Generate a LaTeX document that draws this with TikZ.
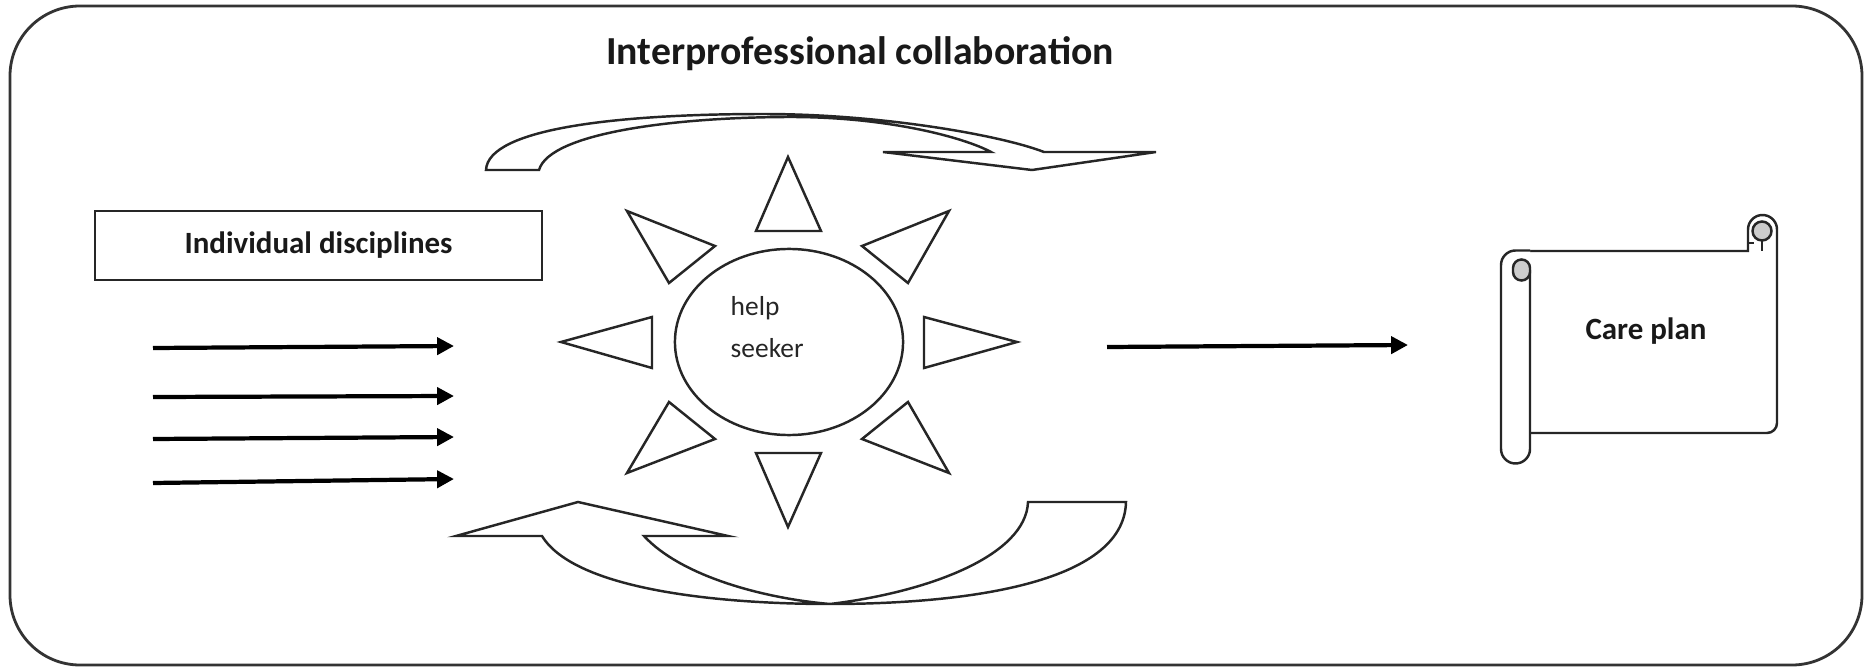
\documentclass[tikz,border=0pt]{standalone}
\usepackage{fontspec}
\setmainfont{Carlito}
\usetikzlibrary{shapes.geometric,arrows.meta}
\begin{document}
\begin{tikzpicture}[x=0.01cm,y=-0.01cm,
  outline/.style={draw=black!85, line width=0.7pt, line join=miter, fill=white},
  frameline/.style={draw=black!80, line width=0.8pt, rounded corners=0.7cm},
  flowarrow/.style={draw=black, line width=1.2pt, -{Triangle[length=4.8pt,width=4.8pt]}},
  boldlbl/.style={font=\bfseries\fontsize{8.8}{10.5}\selectfont, inner sep=0pt, text=black!90},
  curlfill/.style={draw=black!85, line width=0.7pt, fill=gray!40},
]
\useasboundingbox (0,0) rectangle (1869,670);
% outer frame
\draw[frameline] (10,6) rectangle (1862,665);
% title
\node[font=\bfseries\fontsize{11.3}{13}\selectfont, inner sep=0pt, text=black!90] (title) at (860,54) {Interprofessional collaboration};
% individual disciplines box
\node[draw=black!85, line width=0.6pt, minimum width=4.47cm, minimum height=0.69cm, inner sep=0pt, boldlbl] (disc) at (318.5,245.5) {Individual disciplines};
% left arrows
\coordinate (a1s) at (153,348); \coordinate (a1e) at (454,346);
\coordinate (a2s) at (153,397); \coordinate (a2e) at (454,396);
\coordinate (a3s) at (153,439); \coordinate (a3e) at (454,437);
\coordinate (a4s) at (153,483); \coordinate (a4e) at (454,479);
\draw[flowarrow] (a1s) -- (a1e);
\draw[flowarrow] (a2s) -- (a2e);
\draw[flowarrow] (a3s) -- (a3e);
\draw[flowarrow] (a4s) -- (a4e);
% right arrow
\coordinate (b1s) at (1107,347); \coordinate (b1e) at (1408,345);
\draw[flowarrow] (b1s) -- (b1e);
% top curved arrow
\draw[outline] (486,170) .. controls (488,128) and (620,114) .. (764,114)
  .. controls (880,114) and (1000,135) .. (1044,152)
  -- (1156,152) -- (1032,170) -- (883,152) -- (991,152)
  .. controls (965,138) and (890,117) .. (791,117)
  .. controls (680,117) and (550,132) .. (539,170) -- cycle;
% bottom curved arrow
\draw[outline] (456,536) -- (578,502) -- (728,536) -- (644,536)
  .. controls (680,575) and (760,598) .. (830,604)
  .. controls (930,592) and (1026,555) .. (1028,502)
  -- (1126,502)
  .. controls (1124,585) and (960,604) .. (830,604)
  .. controls (720,604) and (575,590) .. (542,536) -- cycle;
% sun rays
\draw[outline] (788,157) -- (756,231) -- (821,231) -- cycle;
\draw[outline] (756,453) -- (821,453) -- (788,527) -- cycle;
\draw[outline] (561,342) -- (652,317) -- (652,368) -- cycle;
\draw[outline] (924,317) -- (924,368) -- (1017,342) -- cycle;
\draw[outline] (627,211) -- (715,246) -- (669,283) -- cycle;
\draw[outline] (949,211) -- (862,246) -- (908,283) -- cycle;
\draw[outline] (669,402) -- (715,439) -- (627,473) -- cycle;
\draw[outline] (908,402) -- (862,439) -- (949,473) -- cycle;
% help seeker
\node[ellipse, draw=black!85, line width=0.7pt, minimum width=2.28cm, minimum height=1.86cm, inner sep=0pt] (hs) at (789,342) {};
\node[anchor=west, align=left, inner sep=0pt, font=\fontsize{7.8}{12}\selectfont, text=black!85] (hstext) at (730,327) {help\\seeker};
% scroll
\draw[outline] (1530,251) -- (1748,251) -- (1748,229.5) arc[start angle=180, end angle=360, radius=14.5]
  -- (1777,423) arc[start angle=0, end angle=90, radius=10] -- (1530,433);
\draw[curlfill] (1762,231) circle[radius=9.5];
\draw[draw=black!85, line width=0.7pt] (1748,243) -- (1754,243);
\draw[draw=black!85, line width=0.7pt] (1762,240.5) -- (1762,251);
\draw[outline] (1530,270) -- (1530,449) arc[start angle=0, end angle=180, radius=14.5]
  -- (1501,265) arc[start angle=180, end angle=270, radius=14.5] -- (1530,250.5);
\draw[curlfill] (1513,272) -- (1513,268) arc[start angle=180, end angle=360, radius=8.5]
  -- (1530,272) arc[start angle=0, end angle=180, radius=8.5] -- cycle;
\node[boldlbl] (care) at (1646,331) {Care plan};
\end{tikzpicture}
\end{document}
